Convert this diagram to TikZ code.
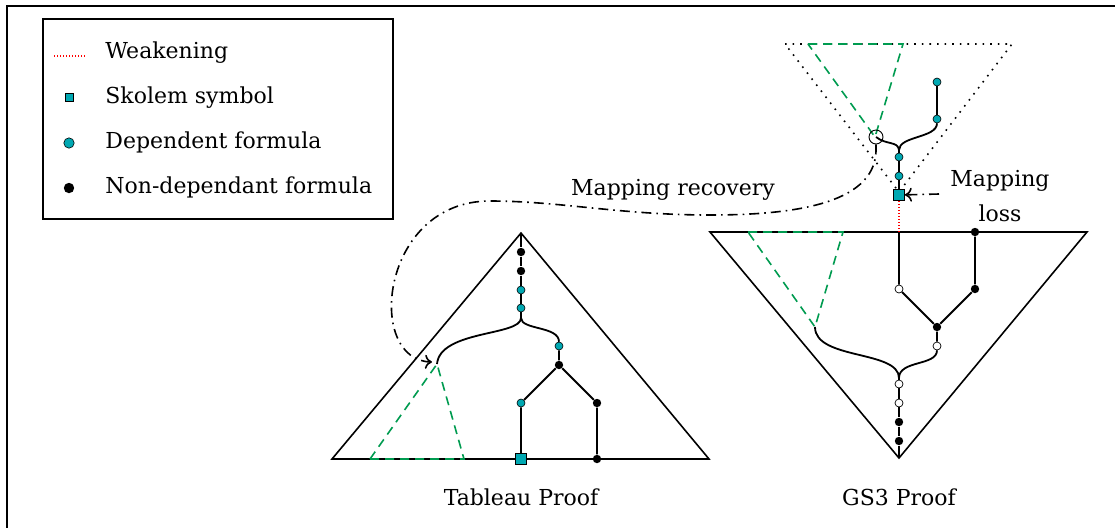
\documentclass[tikz,border=0pt]{standalone}
\usepackage{fontspec}
\setmainfont{DejaVu Serif}
\usetikzlibrary{arrows.meta}

\definecolor{skolteal}{RGB}{0,168,178}
\definecolor{subgreen}{RGB}{0,155,80}

\begin{document}
\begin{tikzpicture}[x=0.5pt, y=-0.5pt,
  depdot/.style={circle, draw, fill=skolteal, inner sep=0pt, minimum size=4pt, line width=0.3pt},
  ndepdot/.style={circle, fill=black, inner sep=0pt, minimum size=4.2pt},
  opendot/.style={circle, draw, fill=white, inner sep=0pt, minimum size=4pt, line width=0.35pt},
  skolsq/.style={rectangle, draw, fill=skolteal, inner sep=0pt, minimum size=5.6pt, line width=0.3pt},
  rootring/.style={circle, draw, inner sep=0pt, minimum size=7pt, line width=0.45pt},
  proofside/.style={line width=0.8pt},
  branch/.style={line width=0.9pt},
  subproof/.style={line width=0.8pt, subgreen, dash pattern=on 4.5pt off 3pt},
  weak/.style={line width=0.8pt, red, dash pattern=on 0.5pt off 1pt},
  mapline/.style={line width=0.8pt, dash pattern=on 5pt off 2.5pt on 0.8pt off 2.5pt,
    -{To[length=3.5pt,width=7pt]}},
  lbl/.style={font=\fontsize{11}{17.5}\selectfont, inner sep=0pt}]

  \useasboundingbox (0,0) rectangle (1115,527);
  \draw[line width=0.8pt] (7,6) rectangle (1140,545);

  % legend
  \draw[line width=0.8pt] (43,19) rectangle (393,219);
  \coordinate (wk1) at (54,56);
  \coordinate (wk2) at (87,56);
  \draw[weak] (wk1) -- (wk2);
  \node[skolsq, minimum size=4.2pt] (lgskol) at (69,97) {};
  \node[depdot, minimum size=5.2pt] (lgdep) at (69,143) {};
  \node[ndepdot, minimum size=5.2pt] (lgndep) at (69,188) {};
  \node[lbl, anchor=base west] (lgweaktxt) at (105,58) {Weakening};
  \node[lbl, anchor=base west] (lgskoltxt) at (105,103) {Skolem symbol};
  \node[lbl, anchor=base west] (lgdeptxt) at (105,148) {Dependent formula};
  \node[lbl, anchor=base west] (lgndeptxt) at (105,193) {Non-dependant formula};

  % skolemized part (top)
  \draw[line width=0.8pt, dash pattern=on 0.8pt off 3pt] (785,44) -- (1012,44) -- (899,192) -- cycle;
  \draw[subproof] (808,44) -- (903,44) -- (875,137) -- cycle;
  \node[rootring] (ucirc) at (876,137) {};
  \node[skolsq] (usq) at (899,195) {};
  \node[depdot] (ud1) at (899,176) {};
  \node[depdot] (ud2) at (899,157) {};
  \coordinate (ujoin) at (899,150);
  \node[depdot] (ud3) at (937,119) {};
  \node[depdot] (ud4) at (937,82) {};
  \draw[branch] (usq) -- (ud1) -- (ud2) -- (ujoin);
  \draw[branch] (ujoin) .. controls (898,141) and (886,145) .. (ucirc.center);
  \draw[branch] (ujoin) .. controls (899,136) and (937,138) .. (ud3);
  \draw[branch] (ud3) -- (ud4);

  % GS3 proof
  \draw[proofside] (710,232) -- (1087,232) -- (899,458) -- cycle;
  \draw[subproof] (748,232) -- (843,232) -- (815,327) -- cycle;
  \coordinate (gtop) at (899,232);
  \coordinate (gsub) at (815,327);
  \coordinate (gjoin) at (899,378);
  \coordinate (gbot) at (899,458);
  \node[opendot] (g1) at (899,289) {};
  \node[ndepdot] (gn1) at (975,232) {};
  \node[ndepdot] (gn2) at (975,289) {};
  \node[ndepdot] (gn3) at (937,327) {};
  \node[opendot] (g2) at (937,346) {};
  \node[opendot] (g3) at (899,384) {};
  \node[opendot] (g4) at (899,403) {};
  \node[ndepdot] (gn4) at (899,422) {};
  \node[ndepdot] (gn5) at (899,441) {};
  \draw[branch] (gtop) -- (g1) -- (gn3);
  \draw[branch] (gn1) -- (gn2) -- (gn3) -- (g2);
  \draw[branch] (g2) .. controls (937,366) and (899,360) .. (gjoin);
  \draw[branch] (gsub) .. controls (815,360) and (899,350) .. (gjoin);
  \draw[branch] (gjoin) -- (g3) -- (g4) -- (gn4) -- (gn5) -- (gbot);
  \draw[weak] (usq) -- (gtop);

  % Tableau proof
  \draw[proofside] (332,459) -- (709,459) -- (521,233) -- cycle;
  \draw[subproof] (370,459) -- (464,459) -- (437,364) -- cycle;
  \coordinate (ttop) at (521,233);
  \coordinate (tjoin) at (521,318);
  \coordinate (tsub) at (437,364);
  \node[ndepdot] (tn1) at (521,252) {};
  \node[ndepdot] (tn2) at (521,271) {};
  \node[depdot] (td1) at (521,290) {};
  \node[depdot] (td2) at (521,308) {};
  \node[depdot] (td3) at (559,346) {};
  \node[ndepdot] (tn3) at (559,365) {};
  \node[depdot] (td4) at (521,403) {};
  \node[ndepdot] (tn4) at (597,403) {};
  \node[skolsq] (tsq) at (521,459) {};
  \node[ndepdot] (tn5) at (597,459) {};
  \draw[branch] (ttop) -- (tn1) -- (tn2) -- (td1) -- (td2) -- (tjoin);
  \draw[branch] (tjoin) .. controls (521,336) and (440,330) .. (tsub);
  \draw[branch] (tjoin) .. controls (521,330) and (559,326) .. (td3);
  \draw[branch] (td3) -- (tn3) -- (td4) -- (tsq);
  \draw[branch] (tn3) -- (tn4) -- (tn5);

  % mappings
  \coordinate (trec) at (432,362);
  \coordinate (lossstart) at (939,194);
  \draw[mapline] (ucirc.south) -- ++(0,7) .. controls (874,205) and (790,215) .. (710,215)
    .. controls (620,215) and (560,201) .. (490,201)
    .. controls (380,201) and (365,360) .. (trec);
  \draw[mapline] (lossstart) -- (usq);
  \node[lbl, anchor=base] (rectxt) at (673,195) {Mapping recovery};
  \node[lbl, align=center] (losstxt) at (1000,196) {Mapping\\loss};
  \node[lbl, anchor=base] (tabtxt) at (521,505) {Tableau Proof};
  \node[lbl, anchor=base] (gstxt) at (899,505) {GS3 Proof};
\end{tikzpicture}
\end{document}
